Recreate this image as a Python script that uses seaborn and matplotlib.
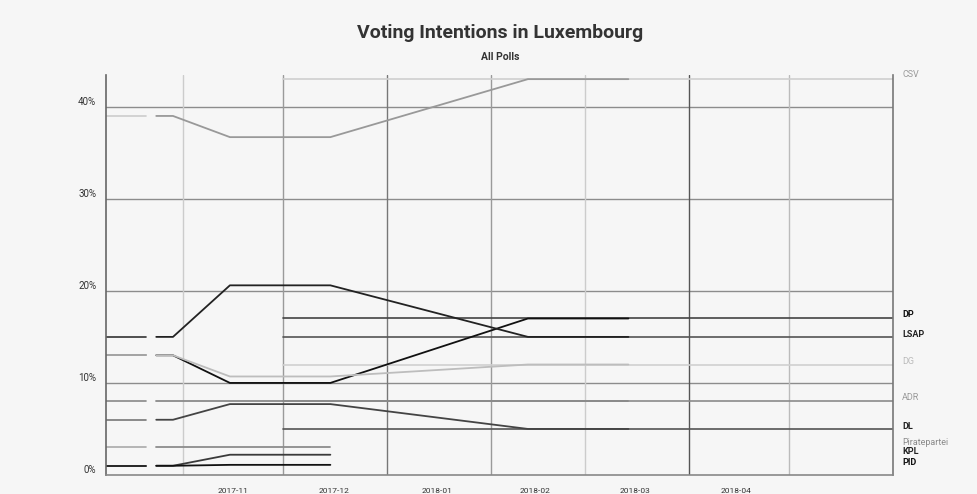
import matplotlib
matplotlib.use("Agg")
import matplotlib.pyplot as plt
import numpy as np
import pandas as pd
import seaborn as sns

# poll dates and values (percent)
poll_dates = ["2017-10-24", "2017-10-29", "2017-11-15", "2017-12-15", "2018-02-12", "2018-03-14"]
parties = ["CSV", "DP", "LSAP", "DG", "ADR", "DL", "Piratepartei", "KPL", "PID"]
csv = [39.0, 39.0, 36.7, 36.7, 43.0, 43.0]
dp = [13.0, 13.0, 10.0, 10.0, 17.0, 17.0]
lsap = [15.0, 15.0, 20.6, 20.6, 15.0, 15.0]
dg = [13.0, 13.0, 10.7, 10.7, 12.0, 12.0]
adr = [8.0, 8.0, 8.0, 8.0, 8.0, 8.0]
dl = [6.0, 6.0, 7.7, 7.7, 5.0, 5.0]
pirates = [3.0, 3.0, 3.0, 3.0, np.nan, np.nan]
kpl = [1.0, 1.0, 2.2, 2.2, np.nan, np.nan]
pid = [1.0, 1.0, 1.1, 1.1, np.nan, np.nan]
series = [csv, dp, lsap, dg, adr, dl, pirates, kpl, pid]

stub_range = ["2017-10-09", "2017-10-21"]
ext_range = ["2017-12-01", "2018-06-01"]
ext_parties = ["CSV", "DP", "LSAP", "DG", "ADR", "DL"]
month_starts = ["2017-11-01", "2017-12-01", "2018-01-01", "2018-02-01", "2018-03-01", "2018-04-01", "2018-05-01"]
month_labels = ["2017-11", "2017-12", "2018-01", "2018-02", "2018-03", "2018-04"]
month_mids = ["2017-11-16", "2017-12-16", "2018-01-16", "2018-02-14", "2018-03-16", "2018-04-15"]
yticks = [0, 10, 20, 30, 40]

line_col = {"CSV": "#999999", "DP": "#111111", "LSAP": "#222222", "DG": "#bdbdbd", "ADR": "#8a8a8a",
            "DL": "#444444", "Piratepartei": "#8c8c8c", "KPL": "#3a3a3a", "PID": "#111111"}
ext_col = {"CSV": "#cfcfcf", "DP": "#444444", "LSAP": "#555555", "DG": "#d0d0d0", "ADR": "#8a8a8a", "DL": "#555555"}
stub_col = {"CSV": "#cccccc", "DP": "#777777", "LSAP": "#333333", "DG": "#aaaaaa", "ADR": "#888888",
            "DL": "#777777", "Piratepartei": "#aaaaaa", "KPL": "#333333", "PID": "#222222"}
label_col = {"CSV": "#9a9a9a", "DP": "#111111", "LSAP": "#222222", "DG": "#bbbbbb", "ADR": "#999999",
             "DL": "#222222", "Piratepartei": "#8a8a8a", "KPL": "#222222", "PID": "#111111"}
label_y = {"CSV": 43.5, "DP": 17.4, "LSAP": 15.3, "DG": 12.3, "ADR": 8.4, "DL": 5.3,
           "Piratepartei": 3.5, "KPL": 2.6, "PID": 1.4}
grid_col = ["#cccccc", "#9a9a9a", "#777777", "#9a9a9a", "#cccccc", "#555555", "#bbbbbb"]

bg = "#f6f6f6"
sns.set_theme(style="white")
plt.rcParams["font.family"] = ["Roboto", "DejaVu Sans"]

rows = []
for party, vals in zip(parties, series):
    for d, v in zip(poll_dates, vals):
        if not np.isnan(v):
            rows.append({"date": pd.Timestamp(d), "party": party, "value": v})
df = pd.DataFrame(rows)

fig = plt.figure(figsize=(9.78, 4.94), dpi=100, facecolor=bg)
ax = fig.add_axes([0.1084, 0.0385, 0.8046, 0.8097], facecolor=bg)

# grid
for y in yticks[1:]:
    ax.axhline(y, color="#8c8c8c", lw=1, zorder=1)
for d, c in zip(month_starts, grid_col):
    ax.axvline(pd.Timestamp(d), color=c, lw=1, zorder=1)

# left stubs at first value
for party, vals in zip(parties, series):
    ax.plot([pd.Timestamp(stub_range[0]), pd.Timestamp(stub_range[1])], [vals[0], vals[0]],
            color=stub_col[party], lw=1.2, zorder=2)

# latest-value lines extended to the right edge
for party, vals in zip(parties, series):
    if party in ext_parties:
        last = [v for v in vals if not np.isnan(v)][-1]
        ax.plot([pd.Timestamp(ext_range[0]), pd.Timestamp(ext_range[1])], [last, last],
                color=ext_col[party], lw=1.2, zorder=2)

sns.lineplot(data=df, x="date", y="value", hue="party", palette=line_col, estimator=None,
             sort=False, lw=1.3, legend=False, ax=ax, zorder=3)

ax.set_xlim(pd.Timestamp(stub_range[0]), pd.Timestamp(ext_range[1]))
ax.set_ylim(0, 43.45)
ax.set_xlabel("")
ax.set_ylabel("")

ax.set_xticks([pd.Timestamp(d) for d in month_mids])
ax.set_xticklabels(month_labels, fontsize=6, color="#333333")
ax.tick_params(axis="x", length=0, pad=9.5)
ax.set_yticks(yticks)
ax.set_yticklabels([f"{y}%" for y in yticks], fontsize=7, color="#333333", va="bottom")
ax.tick_params(axis="y", length=0, pad=7)

for s in ["left", "bottom", "right"]:
    ax.spines[s].set_visible(True)
    ax.spines[s].set_linewidth(1.2)
ax.spines["left"].set_color("#666666")
ax.spines["bottom"].set_color("#888888")
ax.spines["right"].set_color("#777777")
ax.spines["top"].set_visible(False)

for party in parties:
    bold = label_col[party] in ("#111111", "#222222")
    ax.text(1.012, label_y[party], party, transform=ax.get_yaxis_transform(), fontsize=6.5,
            color=label_col[party], va="center", ha="left", fontweight="bold" if bold else "normal")

fig.text(0.511, 0.934, "Voting Intentions in Luxembourg", ha="center", va="center",
         fontsize=14, fontweight="bold", color="#333333")
fig.text(0.511, 0.884, "All Polls", ha="center", va="center", fontsize=7.5,
         fontweight="bold", color="#333333")

fig.savefig("out.png", dpi=100, facecolor=bg)
